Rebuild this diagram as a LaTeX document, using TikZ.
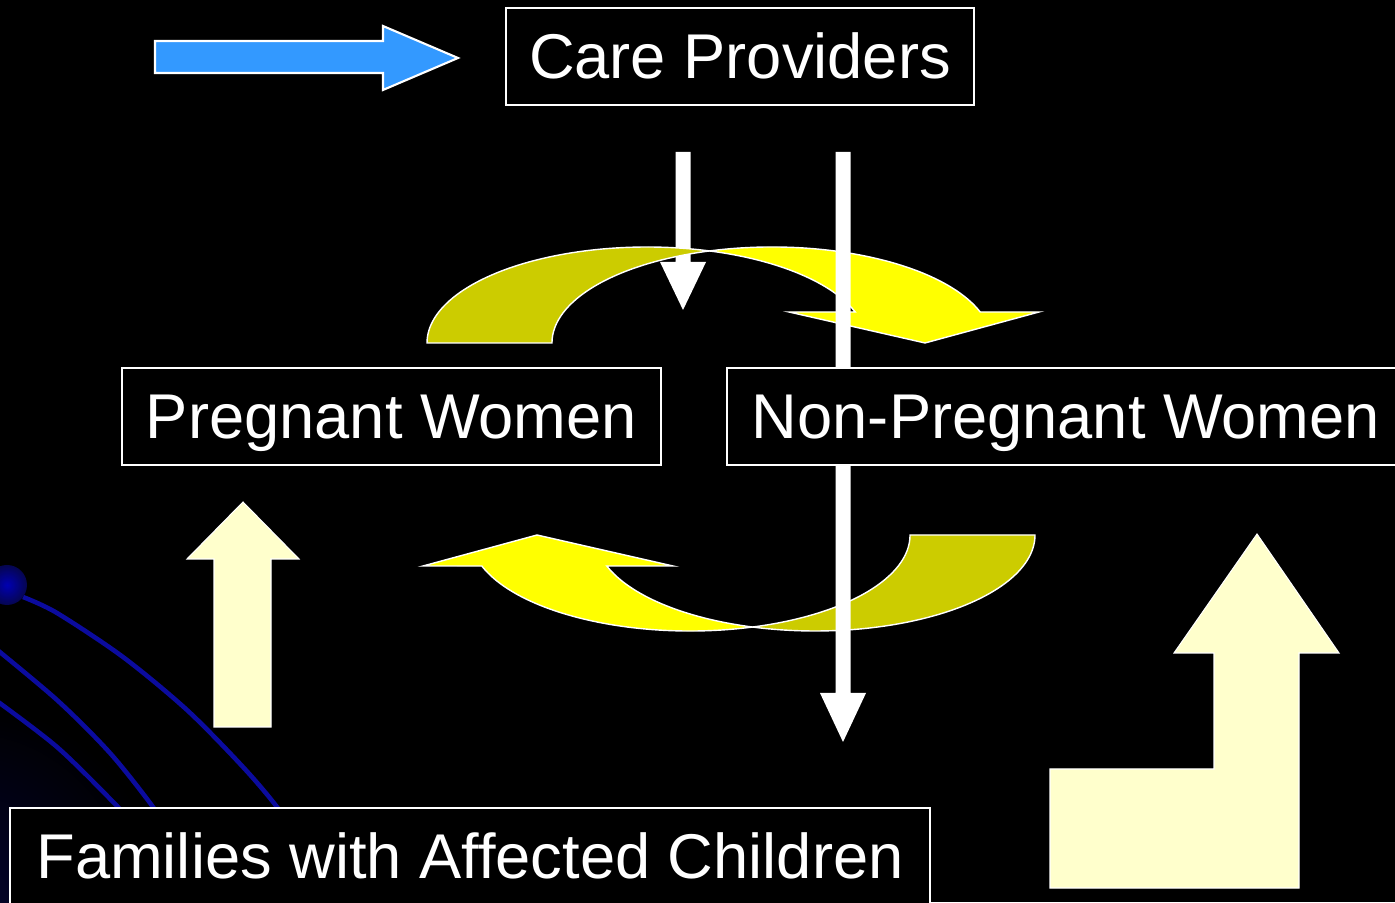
\documentclass[tikz,border=0pt]{standalone}
\usepackage{fontspec}
\setmainfont{Liberation Sans}
\usepackage{xcolor}
\definecolor{skyblue}{HTML}{3399FF}
\definecolor{cream}{HTML}{FFFFCC}
\definecolor{darkyellow}{HTML}{CCCC00}
\definecolor{brightyellow}{HTML}{FFFF00}
\definecolor{swirlblue}{HTML}{0B0B9E}
\usepackage{tikz}

\tikzset{
	textbox/.style={draw=white, line width=1.1pt, fill=black, text=white,
		font=\fontsize{36}{43}\selectfont, inner sep=0pt,
		minimum height=1.94cm, text height=32.6pt, text depth=7.6pt},
	swoop/.style={draw=white, line width=0.8pt},
	block/.style={fill=cream, draw=white, line width=0.6pt},
}

\begin{document}
\begin{tikzpicture}[x=0.02cm, y=0.02cm]
	\useasboundingbox (0,0) rectangle (1395,902);
	\fill[black] (0,0) rectangle (1395,902);
	\clip (0,0) rectangle (1395,902);
	
	% swirl in the lower left corner
	\shade[inner color=swirlblue!30!black, outer color=black] (-40,0) circle (200);
	\draw[swirlblue, line width=2.6pt] plot[smooth] coordinates {(23,305) (57,289) (123,245) (187,192) (243,135) (277,95) (300,60)};
	\draw[swirlblue, line width=2.6pt] plot[smooth] coordinates {(-10,258) (57,202) (110,149) (153,95) (175,60)};
	\draw[swirlblue, line width=2.6pt] plot[smooth] coordinates {(-10,206) (57,155) (118,95) (140,70)};
	\shade[inner color=blue!70!black, outer color=swirlblue!50!black] (7,317) circle (20);
	
	% blue arrow pointing at the care providers
	\filldraw[fill=skyblue, draw=white, line width=1.2pt] (155,861) -- (383,861) -- (383,876) -- (458,844) -- (383,812) -- (383,829) -- (155,829) -- cycle;
	
	% left down arrow, behind the swoops
	\fill[white] (675.5,750) -- (675.5,640) -- (660,640) -- (683,592) -- (706,640) -- (690.5,640) -- (690.5,750) -- cycle;
	
	% the two curved arrows, the lower one turned half round
	\foreach \r in {0,180} {
		\begin{scope}[rotate around={\r:(731,463)}]
			\filldraw[swoop, fill=darkyellow] (427,559) arc[start angle=180, end angle=73.5, x radius=220, y radius=96]
				arc[start angle=106.5, end angle=180, x radius=220, y radius=96] -- cycle;
			\filldraw[swoop, fill=brightyellow] (709.5,651.05) arc[start angle=106.5, end angle=18.84, x radius=220, y radius=96]
				-- (1039,590) -- (925,559) -- (789,590) -- (855.2,590)
				arc[start angle=18.84, end angle=73.5, x radius=220, y radius=96] -- cycle;
		\end{scope}
	}
	
	% right down arrow, over the swoops
	\fill[white] (835.5,750) -- (835.5,209) -- (820,209) -- (843,160) -- (866,209) -- (850.5,209) -- (850.5,750) -- cycle;
	
	% cream up arrows
	\filldraw[block] (214,175) -- (214,343) -- (187,343) -- (243,400) -- (299,343) -- (271,343) -- (271,175) -- cycle;
	\filldraw[block] (1050,14) -- (1050,133) -- (1214,133) -- (1214,249) -- (1174,249) -- (1257,368) -- (1339,249) -- (1299,249) -- (1299,14) -- cycle;
	
	\node[textbox, minimum width=9.36cm] (care) at (740,845.5) {Care Providers};
	\node[textbox, minimum width=10.78cm] (pregnant) at (391.5,485.5) {Pregnant Women};
	\node[textbox, minimum width=13.56cm] (nonpregnant) at (1066,485.5) {Non-Pregnant Women};
	\node[textbox, minimum width=18.4cm] (families) at (470,45.5) {Families with Affected Children};
\end{tikzpicture}
\end{document}
